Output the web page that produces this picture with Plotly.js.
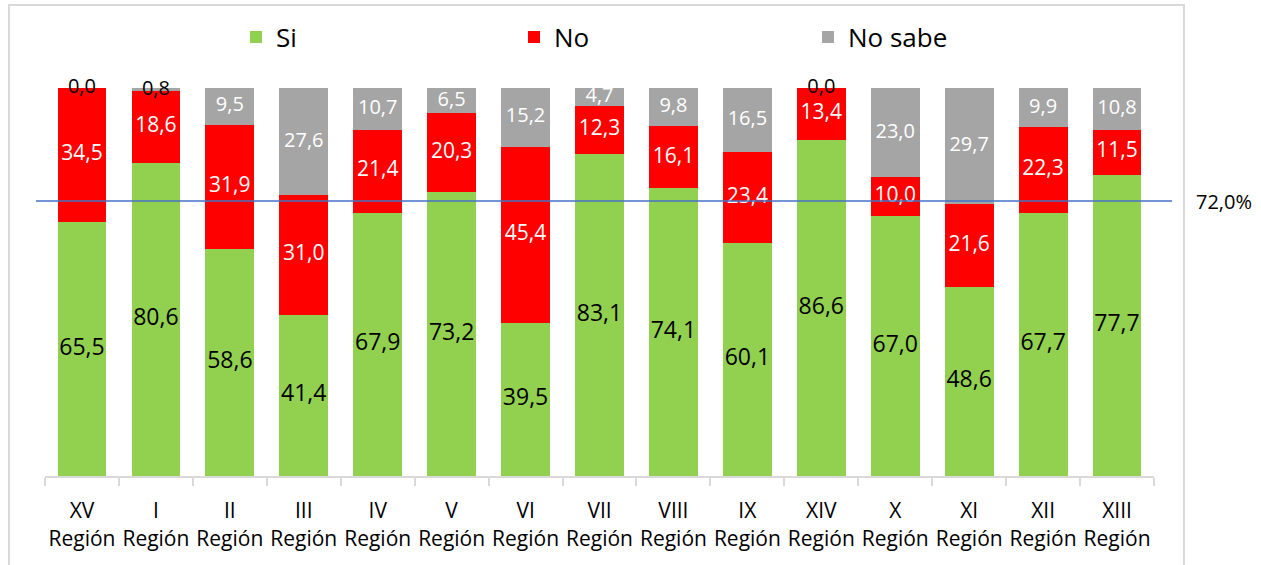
<!DOCTYPE html>
<html>
<head>
<meta charset="utf-8">
<script src="https://cdn.plot.ly/plotly-3.0.1.min.js"></script>
<style>html,body{margin:0;padding:0;background:#fff;}#chart{width:1261px;height:565px;}</style>
</head>
<body>
<div id="chart"></div>
<script>
const regiones = ["XV","I","II","III","IV","V","VI","VII","VIII","IX","XIV","X","XI","XII","XIII"];
const si      = [65.5, 80.6, 58.6, 41.4, 67.9, 73.2, 39.5, 83.1, 74.1, 60.1, 86.6, 67.0, 48.6, 67.7, 77.7];
const no      = [34.5, 18.6, 31.9, 31.0, 21.4, 20.3, 45.4, 12.3, 16.1, 23.4, 13.4, 10.0, 21.6, 22.3, 11.5];
const noSabe  = [0.0, 0.8, 9.5, 27.6, 10.7, 6.5, 15.2, 4.7, 9.8, 16.5, 0.0, 23.0, 29.7, 9.9, 10.8];
const promedio = 72.0;

const etiquetas = regiones.map(r => r + "<br>Región");
const fmt = v => v.toFixed(1).replace(".", ",");
const FONT = "Open Sans, sans-serif";

// midpoints of each stacked segment (for the value labels)
const midSi = si.map(v => v/2);
const midNo = no.map((v,i) => si[i] + v/2);
const midNs = noSabe.map((v,i) => si[i] + no[i] + v/2);

function barra(name, y, color, legend) {
  return {type:"bar", name:name, x:etiquetas, y:y, marker:{color:color}, hoverinfo:"none", legend:legend};
}
function rotulos(y, vals, size, color) {
  return {type:"scatter", mode:"text", showlegend:false, hoverinfo:"none", cliponaxis:false,
          x:etiquetas, y:y, text:vals.map(fmt), textposition:"middle center",
          textfont:{family:FONT, size:size, color:color}};
}

const traces = [
  barra("Si", si, "#92D050", "legend"),
  barra("No", no, "#FF0000", "legend2"),
  barra("No sabe", noSabe, "#A5A5A5", "legend3"),
  rotulos(midSi, si, 23, "#000"),
  rotulos(midNo, no, 21, "#fff"),
  rotulos(midNs, noSabe, 20, noSabe.map(v => v < 2 ? "#000" : "#fff"))
];

function leyenda(x) {
  return {orientation:"h", x:x, xanchor:"left", yref:"container", y:0.9345, yanchor:"middle",
          bgcolor:"rgba(0,0,0,0)", font:{family:FONT, size:26, color:"#000"}};
}

const layout = {
  width:1261, height:565,
  margin:{l:45, r:107, t:88, b:89, autoexpand:false},
  barmode:"stack", bargap:0.34,
  paper_bgcolor:"#fff", plot_bgcolor:"#fff",
  font:{family:FONT, color:"#000"},
  showlegend:true,
  legend:leyenda(0.1722),
  legend2:leyenda(0.4229),
  legend3:leyenda(0.6880),
  xaxis:{range:[-0.5, regiones.length-0.5], autorange:false, tickangle:0,
         showline:true, linecolor:"#D9D9D9", linewidth:2, ticks:"outside", tickson:"boundaries",
         ticklen:8, tickcolor:"#D9D9D9", tickwidth:2, ticklabelstandoff:15,
         tickfont:{family:FONT, size:21, color:"#000"},
         showgrid:false, zeroline:false, fixedrange:true},
  yaxis:{range:[0,100], visible:false, showgrid:false, zeroline:false, fixedrange:true},
  yaxis2:{range:[0,101.6], overlaying:"y", visible:false, showgrid:false, zeroline:false},
  shapes:[
    {type:"rect", xref:"paper", yref:"paper", x0:-0.0325, x1:1.027, y0:-0.25, y1:1.2139,
     line:{color:"#D9D9D9", width:2}, fillcolor:"rgba(0,0,0,0)", layer:"below"},
    {type:"line", xref:"paper", yref:"y2", x0:-0.0081, x1:1.0162, y0:promedio, y1:promedio,
     line:{color:"#4472C4", width:1.5}}
  ],
  annotations:[
    {xref:"paper", yref:"y2", x:1.036, y:promedio, xanchor:"left", yanchor:"middle",
     text:fmt(promedio)+"%", showarrow:false, font:{family:FONT, size:20, color:"#000"}}
  ]
};

Plotly.newPlot("chart", traces, layout, {displayModeBar:false, staticPlot:true});
</script>
</body>
</html>
